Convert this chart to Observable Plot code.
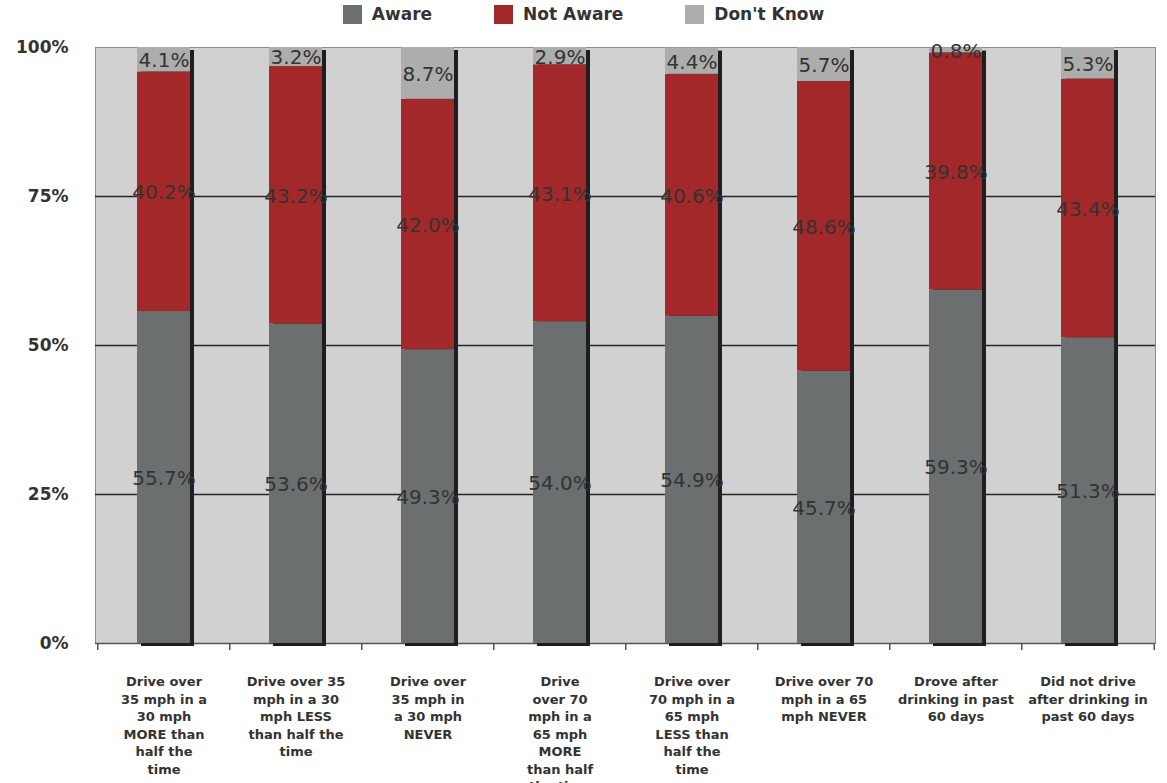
<!DOCTYPE html>
<html><head><meta charset="utf-8">
<script src="https://cdn.jsdelivr.net/npm/d3@7"></script>
<script src="https://cdn.jsdelivr.net/npm/@observablehq/plot@0.6"></script>
<style>
body{margin:0;background:#fff;font-family:"DejaVu Sans",Verdana,sans-serif;width:1167px;height:783px;overflow:hidden;}
#legend{height:28px;display:flex;justify-content:center;align-items:center;gap:62px;color:#333;font-weight:bold;font-size:17px;}
#legend .item{display:flex;align-items:center;gap:10px;}
#legend .sw{width:19px;height:19px;display:inline-block;}
</style></head><body>
<div id="legend"></div><div id="chart"></div>
<script>
const categories = [
  "Drive over\n35 mph in a\n30 mph\nMORE than\nhalf the\ntime",
  "Drive over 35\nmph in a 30\nmph LESS\nthan half the\ntime",
  "Drive over\n35 mph in\na 30 mph\nNEVER",
  "Drive\nover 70\nmph in a\n65 mph\nMORE\nthan half\nthe time",
  "Drive over\n70 mph in a\n65 mph\nLESS than\nhalf the\ntime",
  "Drive over 70\nmph in a 65\nmph NEVER",
  "Drove after\ndrinking in past\n60 days",
  "Did not drive\nafter drinking in\npast 60 days"
];
const aware    = [55.7, 53.6, 49.3, 54.0, 54.9, 45.7, 59.3, 51.3];
const notAware = [40.2, 43.2, 42.0, 43.1, 40.6, 48.6, 39.8, 43.4];
const dontKnow = [4.1, 3.2, 8.7, 2.9, 4.4, 5.7, 0.8, 5.3];
const seriesNames = ["Aware", "Not Aware", "Don't Know"];
const seriesColors = ["#6b6f6f", "#a3282a", "#adadad"];
const yTicks = [0, 25, 50, 75, 100];
const gridTicks = [25, 50, 75];

const seriesValues = [aware, notAware, dontKnow];
const data = categories.flatMap((c, i) => seriesNames.map((s, k) => ({category: c, series: s, value: seriesValues[k][i]})));
const totals = categories.map((c, i) => ({category: c, total: aware[i] + notAware[i] + dontKnow[i]}));

// legend
const legend = document.getElementById("legend");
seriesNames.forEach((s, k) => {
  const it = document.createElement("div");
  it.className = "item";
  it.innerHTML = `<span class="sw" style="background:${seriesColors[k]}"></span><span>${s}</span>`;
  legend.appendChild(it);
});

const W = 1167, H = 755, mL = 95, mR = 12;
const step = (W - mL - mR) / categories.length;

const chart = Plot.plot({
  width: W, height: H,
  marginTop: 19, marginBottom: 140, marginLeft: mL, marginRight: mR,
  style: {fontFamily: "'DejaVu Sans', Verdana, sans-serif", color: "#333", background: "transparent"},
  x: {domain: categories, paddingInner: 0.6, paddingOuter: 0.3, label: null},
  y: {domain: [0, 100], label: null},
  color: {domain: seriesNames, range: seriesColors},
  marks: [
    Plot.frame({fill: "#d1d1d1", stroke: "#8c8c8c"}),
    Plot.ruleY(gridTicks, {stroke: "#262626", strokeWidth: 1.5}),
    Plot.ruleY([0], {stroke: "#555", strokeWidth: 1.5}),
    Plot.ruleX(categories, {x: d => d, y1: 0, y2: 0, dx: -step / 2, insetBottom: -7, stroke: "#555", strokeWidth: 1.5}),
    Plot.ruleX(categories.slice(-1), {x: d => d, y1: 0, y2: 0, dx: step / 2, insetBottom: -7, stroke: "#555", strokeWidth: 1.5}),
    Plot.barY(totals, {x: "category", y: "total", fill: "#1e1e1e", dx: 4, dy: 3}),
    Plot.barY(data, {x: "category", y: "value", fill: "series"}),
    Plot.text(data, Plot.stackY({x: "category", y: "value", text: d => d.value.toFixed(1) + "%", fill: "#333", fontSize: 20, dy: 1, style: "letter-spacing:1.5px"})),
    Plot.axisY({ticks: yTicks, tickFormat: d => d + "%", tickSize: 0, tickPadding: 27, fontSize: 17, fontWeight: "bold", fill: "#333"}),
    Plot.axisX({tickSize: 0, tickPadding: 30, fontSize: 13, fontWeight: "bold", lineHeight: 1.35, fill: "#333"})
  ]
});
document.getElementById("chart").appendChild(chart);
</script>
</body></html>
